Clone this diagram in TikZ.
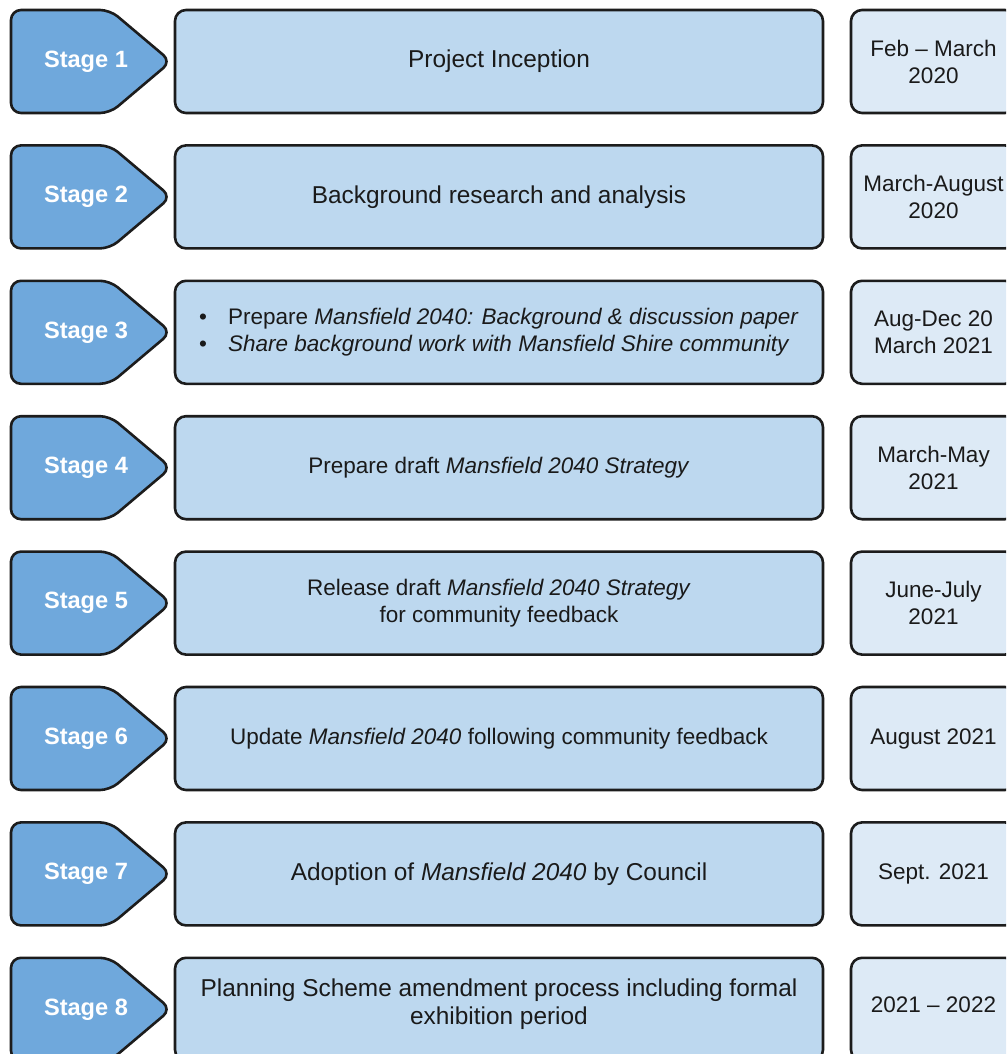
\documentclass[tikz,border=0pt]{standalone}
\usepackage{fontspec}
\setmainfont{Liberation Sans}
\definecolor{stagefill}{HTML}{6FA8DC}
\definecolor{midfill}{HTML}{BDD8EF}
\definecolor{datefill}{HTML}{DDEAF6}
\definecolor{edge}{HTML}{1C1C1C}
\definecolor{txt}{HTML}{1A1A1A}
\tikzset{
  stageshape/.style={draw=edge, line width=2.6pt, fill=stagefill, rounded corners=10pt, line join=round},
  stagelabel/.style={text=white, font=\bfseries\fontsize{23.6}{28}\selectfont, inner sep=0pt},
  midbox/.style={draw=edge, line width=2.6pt, fill=midfill, rounded corners=11pt,
    minimum width=648pt, minimum height=103pt, inner sep=0pt, text=txt,
    align=center, font=\fontsize{22.5}{27}\selectfont},
  bigtext/.style={font=\fontsize{24.4}{28}\selectfont},
  datebox/.style={draw=edge, line width=2.6pt, fill=datefill, rounded corners=11pt,
    minimum width=165pt, minimum height=103pt, inner sep=0pt, text=txt,
    align=center, font=\fontsize{22.5}{27}\selectfont},
  datetext/.style={text=txt, align=center, font=\fontsize{22.5}{27}\selectfont, inner sep=0pt}
}
\begin{document}
\begin{tikzpicture}[x=1pt, y=-1pt]
\useasboundingbox (0,0) rectangle (1006,1054);
\clip (0,0) rectangle (1006,1054);
\fill[white] (0,0) rectangle (1006,1054);
% pentagons
\foreach \i in {1,...,8}{
  \pgfmathsetmacro{\t}{10+135.4*(\i-1)}
  \pgfmathsetmacro{\b}{\t+103}
  \pgfmathsetmacro{\m}{\t+51.5}
  \draw[stageshape] (11,\t) -- (110,\t) -- (171,\m) -- (110,\b) -- (11,\b) -- cycle;
  \node[stagelabel] (s\i) at (86,\m) {Stage \i};
}
% middle boxes
\node[midbox, bigtext] (m1) at (499,61.5) {Project Inception};
\node[midbox, bigtext] (m2) at (499,196.9) {Background research and analysis};
\node[midbox, align=left] (m3) at (499,332.3) {\makebox[29pt][l]{\textbullet}Prepare \textit{Mansfield 2040: Background \& discussion paper}\\\makebox[29pt][l]{\textbullet}\textit{Share background work with Mansfield Shire community}};
\node[midbox] (m4) at (499,467.7) {Prepare draft \textit{Mansfield 2040 Strategy}};
\node[midbox] (m5) at (499,603.1) {Release draft \textit{Mansfield 2040 Strategy}\\for community feedback};
\node[midbox] (m6) at (499,738.5) {Update \textit{Mansfield 2040} following community feedback};
\node[midbox, bigtext] (m7) at (499,873.9) {Adoption of \textit{Mansfield 2040} by Council};
\node[midbox] (m8) at (499,1009.3) {};
\node[datetext, bigtext] (m8t) at (499,1004) {Planning Scheme amendment process including formal\\exhibition period};
% date boxes
\node[datebox] (d1) at (933.5,61.5) {};
\node[datetext] (d1t) at (933.5,61.5) {Feb -- March\\2020};
\node[datebox] (d2) at (933.5,196.9) {};
\node[datetext] (d2t) at (933.5,196.9) {March-August\\2020};
\node[datebox] (d3) at (933.5,332.3) {};
\node[datetext] (d3t) at (933.5,332.3) {Aug-Dec 20\\March 2021};
\node[datebox] (d4) at (933.5,467.7) {};
\node[datetext] (d4t) at (933.5,467.7) {March-May\\2021};
\node[datebox] (d5) at (933.5,603.1) {};
\node[datetext] (d5t) at (933.5,603.1) {June-July\\2021};
\node[datebox] (d6) at (933.5,738.5) {};
\node[datetext] (d6t) at (933.5,738.5) {August 2021};
\node[datebox] (d7) at (933.5,873.9) {};
\node[datetext] (d7t) at (933.5,873.9) {Sept. 2021};
\node[datebox] (d8) at (933.5,1009.3) {};
\node[datetext] (d8t) at (933.5,1005) {2021 -- 2022};
\end{tikzpicture}
\end{document}
